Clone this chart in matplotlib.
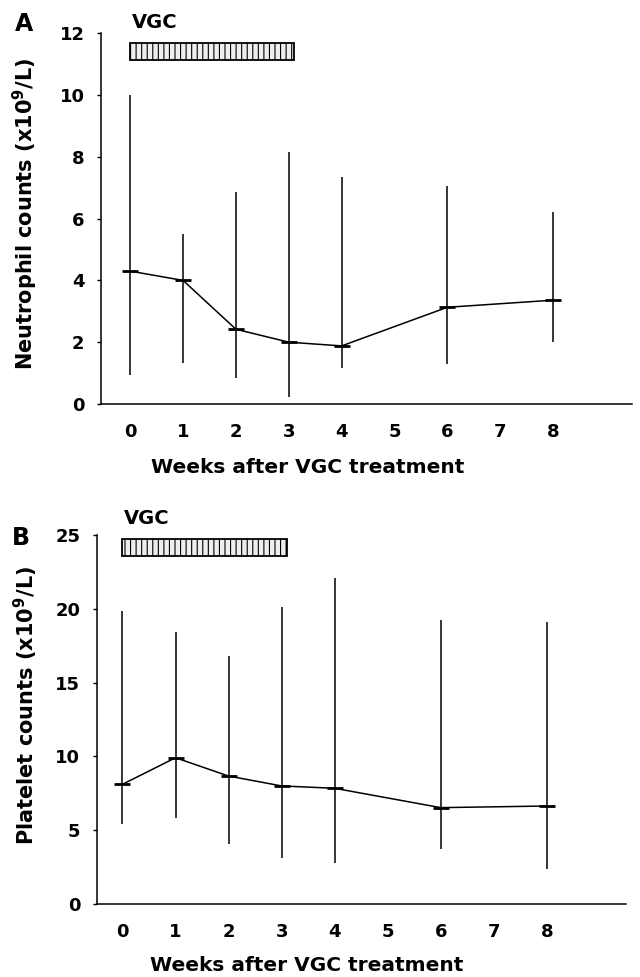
import numpy as np
import matplotlib.pyplot as plt

weeks = [0, 1, 2, 3, 4, 6, 8]
week_ticks = [0, 1, 2, 3, 4, 5, 6, 7, 8]

# Neutrophil counts (x10^9/L): mean, upper and lower ends of range
neut_mean = [4.3, 4.0, 2.42, 2.0, 1.88, 3.13, 3.36]
neut_high = [10.0, 5.5, 6.85, 8.14, 7.35, 7.05, 6.22]
neut_low = [0.94, 1.32, 0.85, 0.23, 1.15, 1.28, 2.01]

# Platelet counts (x10^9/L)
plt_mean = [8.11, 9.91, 8.67, 8.0, 7.84, 6.53, 6.64]
plt_high = [19.85, 18.4, 16.8, 20.1, 22.07, 19.24, 19.13]
plt_low = [5.4, 5.8, 4.04, 3.14, 2.75, 3.7, 2.35]

vgc_start, vgc_end = 0, 3.1

plt.rcParams['font.family'] = 'DejaVu Sans'
plt.rcParams['hatch.linewidth'] = 0.8

fig = plt.figure(figsize=(6.4, 9.77), dpi=100)
ax_a = fig.add_axes([0.158, 0.5865, 0.83, 0.3795])
ax_b = fig.add_axes([0.1516, 0.0747, 0.827, 0.3777])


def draw_panel(ax, mean, low, high, ymax, ystep, bar_y, bar_h, vgc_y,
               ylabel, xmin, ylab_pos, xlab_pos):
    ax.vlines(weeks, low, high, color='black', linewidth=1.1)
    ax.plot(weeks, mean, color='black', linewidth=1.1, marker='_',
            markersize=12, markeredgewidth=2)
    ax.barh(bar_y, vgc_end - vgc_start, left=vgc_start, height=bar_h,
            facecolor='#eeeeee', edgecolor='black', linewidth=1.3,
            hatch='|||', align='edge')
    ax.text(0.03, vgc_y, 'VGC', fontsize=14, fontweight='bold',
            ha='left', va='center', clip_on=False)

    ax.set_xlim(xmin, 9.5)
    ax.set_ylim(0, ymax)
    ax.set_yticks(np.arange(0, ymax + 0.1, ystep))
    ax.set_xticks(week_ticks)
    for s in ['top', 'right']:
        ax.spines[s].set_visible(False)
    ax.spines['left'].set_linewidth(1.1)
    ax.spines['bottom'].set_linewidth(1.1)
    ax.tick_params(axis='x', length=0, pad=14, labelsize=13)
    ax.tick_params(axis='y', length=3, width=1, pad=9, labelsize=13)
    for lab in ax.get_xticklabels() + ax.get_yticklabels():
        lab.set_fontweight('bold')
    ax.set_xlabel('Weeks after VGC treatment', fontsize=14.5, fontweight='bold')
    ax.set_ylabel(ylabel, fontsize=15, fontweight='bold')
    ax.yaxis.set_label_coords(*ylab_pos)
    ax.xaxis.set_label_coords(*xlab_pos)


draw_panel(ax_a, neut_mean, neut_low, neut_high, 12, 2, 11.13, 0.55, 12.35,
           'Neutrophil counts (x10$^\\mathbf{9}$/L)', -0.55,
           (-0.115, 0.512), (0.388, -0.146))
draw_panel(ax_b, plt_mean, plt_low, plt_high, 25, 5, 23.6, 1.1, 26.15,
           'Platelet counts (x10$^\\mathbf{9}$/L)', -0.48,
           (-0.107, 0.537), (0.396, -0.142))

fig.text(15 / 640, 1 - 24 / 977, 'A', fontsize=17, fontweight='bold',
         ha='left', va='center')
fig.text(12 / 640, 1 - 538 / 977, 'B', fontsize=17, fontweight='bold',
         ha='left', va='center')

fig.savefig('out.png', dpi=100)
